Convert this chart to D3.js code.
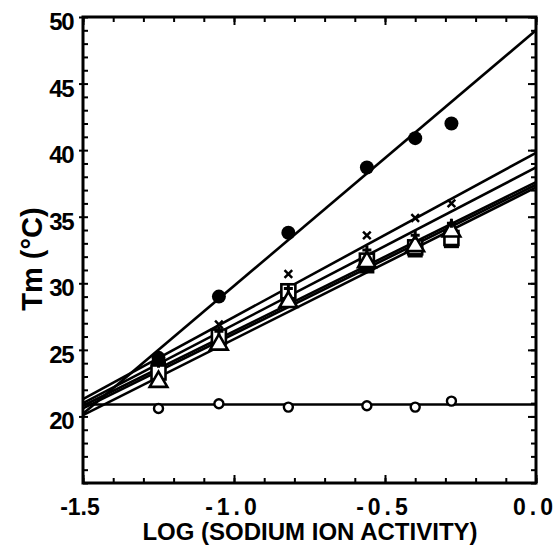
<!DOCTYPE html>
<html>
<head>
<meta charset="utf-8">
<script src="https://cdn.jsdelivr.net/npm/d3@7"></script>
<style>
  body { margin: 0; background: #fff; }
  text { font-family: "Liberation Sans", Arial, sans-serif; font-weight: bold; fill: #000; }
</style>
</head>
<body>
<svg id="chart" width="559" height="545"></svg>
<script>
// x positions shared by every series
const xVals = [-1.25, -1.05, -0.82, -0.56, -0.40, -0.28];

const filledCircle = [24.4, 29.0, 33.8, 38.7, 40.9, 42.0];
const openCircle   = [20.6, 20.95, 20.7, 20.8, 20.7, 21.15];
const crossPts     = [24.3, 26.9, 30.7, 33.6, 34.9, 36.0];
const plusPts      = [24.0, 26.4, 29.6, 32.5, 33.6, 34.5];
const openSquare   = [23.3, 26.0, 29.4, 31.7, 32.7, 33.4];
const filledSquare = [23.6, 25.8, 28.8, 31.3, 32.5, 33.2];
const openTriangle = [22.6, 25.4, 28.6, 31.6, 32.8, 33.9];

// fitted lines, value at x = -1.5 and x = 0
const fitLeft  = [20.2, 20.9, 21.3, 21.0, 20.8, 20.6, 20.1];
const fitRight = [49.0, 20.9, 39.8, 38.7, 37.6, 37.4, 37.2];

const seriesData = [filledCircle, openCircle, crossPts, plusPts, openSquare, filledSquare, openTriangle];
const seriesMark = ["filledCircle", "openCircle", "cross", "plus", "openSquare", "filledSquare", "openTriangle"];

const xTicks = [-1.5, -1.0, -0.5, 0.0];
const xTickLabels = ["-1.5", "-1.0", "-0.5", "0.0"];
const yTicks = [20, 25, 30, 35, 40, 45, 50];

const svg = d3.select("#chart");
const g = svg.append("g");

const x = d3.scaleLinear().domain([-1.5, 0]).range([83, 536]);
const y = d3.scaleLinear().domain([15, 50]).range([483, 17]);

// fit lines
seriesData.forEach((d, i) => {
    g.append("line")
        .attr("x1", x(-1.5))
        .attr("x2", x(0))
        .attr("y1", y(fitLeft[i]))
        .attr("y2", y(fitRight[i]))
        .attr("stroke", "black")
        .attr("stroke-width", 2.6);
});

// markers
function draw_mark(kind, cx, cy) {
    const m = g.append("g").attr("transform", `translate(${cx},${cy})`);
    if (kind === "filledCircle") {
        m.append("circle").attr("r", 7).attr("fill", "black");
    } else if (kind === "openCircle") {
        m.append("circle").attr("r", 4.5).attr("fill", "white")
            .attr("stroke", "black").attr("stroke-width", 2.4);
    } else if (kind === "cross") {
        m.append("path").attr("d", d3.symbol(d3.symbolX, 40)())
            .attr("fill", "none").attr("stroke", "black").attr("stroke-width", 2.5);
    } else if (kind === "plus") {
        m.append("path").attr("d", d3.symbol(d3.symbolCross, 45)())
            .attr("fill", "black");
    } else if (kind === "openSquare") {
        m.append("rect").attr("x", -7).attr("y", -7).attr("width", 14).attr("height", 14)
            .attr("fill", "white").attr("stroke", "black").attr("stroke-width", 2.6);
    } else if (kind === "filledSquare") {
        m.append("rect").attr("x", -7.5).attr("y", -7.5).attr("width", 15).attr("height", 15)
            .attr("fill", "black");
    } else if (kind === "openTriangle") {
        m.append("path").attr("d", d3.symbol(d3.symbolTriangle, 135)())
            .attr("fill", "white").attr("stroke", "black").attr("stroke-width", 2.6);
    }
}

// draw in an order so the light marks stay visible on top of the dark ones
[5, 4, 6, 3, 2, 0, 1].forEach(i => {
    seriesData[i].forEach((v, j) => draw_mark(seriesMark[i], x(xVals[j]), y(v)));
});

// ticks (inward on every side)
const xMinor = d3.range(-1.5, 0.001, 0.1);
const yMinor = d3.range(15, 50.001, 1);

function tick_axis(axisFn, scale, values, size, transform) {
    g.append("g")
        .attr("transform", transform)
        .call(axisFn(scale).tickValues(values).tickSize(size).tickFormat(""))
        .call(a => a.select(".domain").remove())
        .selectAll("line").attr("stroke-width", 2);
}

tick_axis(d3.axisBottom, x, xMinor, -5, `translate(0,${y(15)})`);
tick_axis(d3.axisBottom, x, xTicks, -8, `translate(0,${y(15)})`);
tick_axis(d3.axisTop, x, xMinor, -5, `translate(0,${y(50)})`);
tick_axis(d3.axisTop, x, xTicks, -8, `translate(0,${y(50)})`);
tick_axis(d3.axisLeft, y, yMinor, -5, `translate(${x(-1.5)},0)`);
tick_axis(d3.axisLeft, y, yTicks, 4, `translate(${x(-1.5)},0)`);
tick_axis(d3.axisRight, y, yMinor, -5, `translate(${x(0)},0)`);
tick_axis(d3.axisRight, y, yTicks, -8, `translate(${x(0)},0)`);

// frame
g.append("rect")
    .attr("x", x(-1.5))
    .attr("y", y(50))
    .attr("width", x(0) - x(-1.5))
    .attr("height", y(15) - y(50))
    .attr("fill", "none")
    .attr("stroke", "black")
    .attr("stroke-width", 3);

// y tick labels
yTicks.forEach(t => {
    g.append("text")
        .text(t)
        .attr("x", 73)
        .attr("y", y(t) + 13)
        .attr("text-anchor", "end")
        .attr("font-size", 24)
        .attr("letter-spacing", -1.5);
});

// x tick labels
xTicks.forEach((t, i) => {
    const sp = i === 0 ? 0 : 4;
    g.append("text")
        .text(xTickLabels[i])
        .attr("x", x(t) - 3 + sp / 2)
        .attr("y", 515)
        .attr("text-anchor", "middle")
        .attr("font-size", 23)
        .attr("letter-spacing", sp);
});

// axis titles
g.append("text")
    .text("LOG (SODIUM ION ACTIVITY)")
    .attr("x", 310)
    .attr("y", 540)
    .attr("text-anchor", "middle")
    .attr("font-size", 24);

g.append("text")
    .text("Tm  (°C)")
    .attr("transform", "translate(42,259) rotate(-90)")
    .attr("text-anchor", "middle")
    .attr("font-size", 29);
</script>
</body>
</html>
